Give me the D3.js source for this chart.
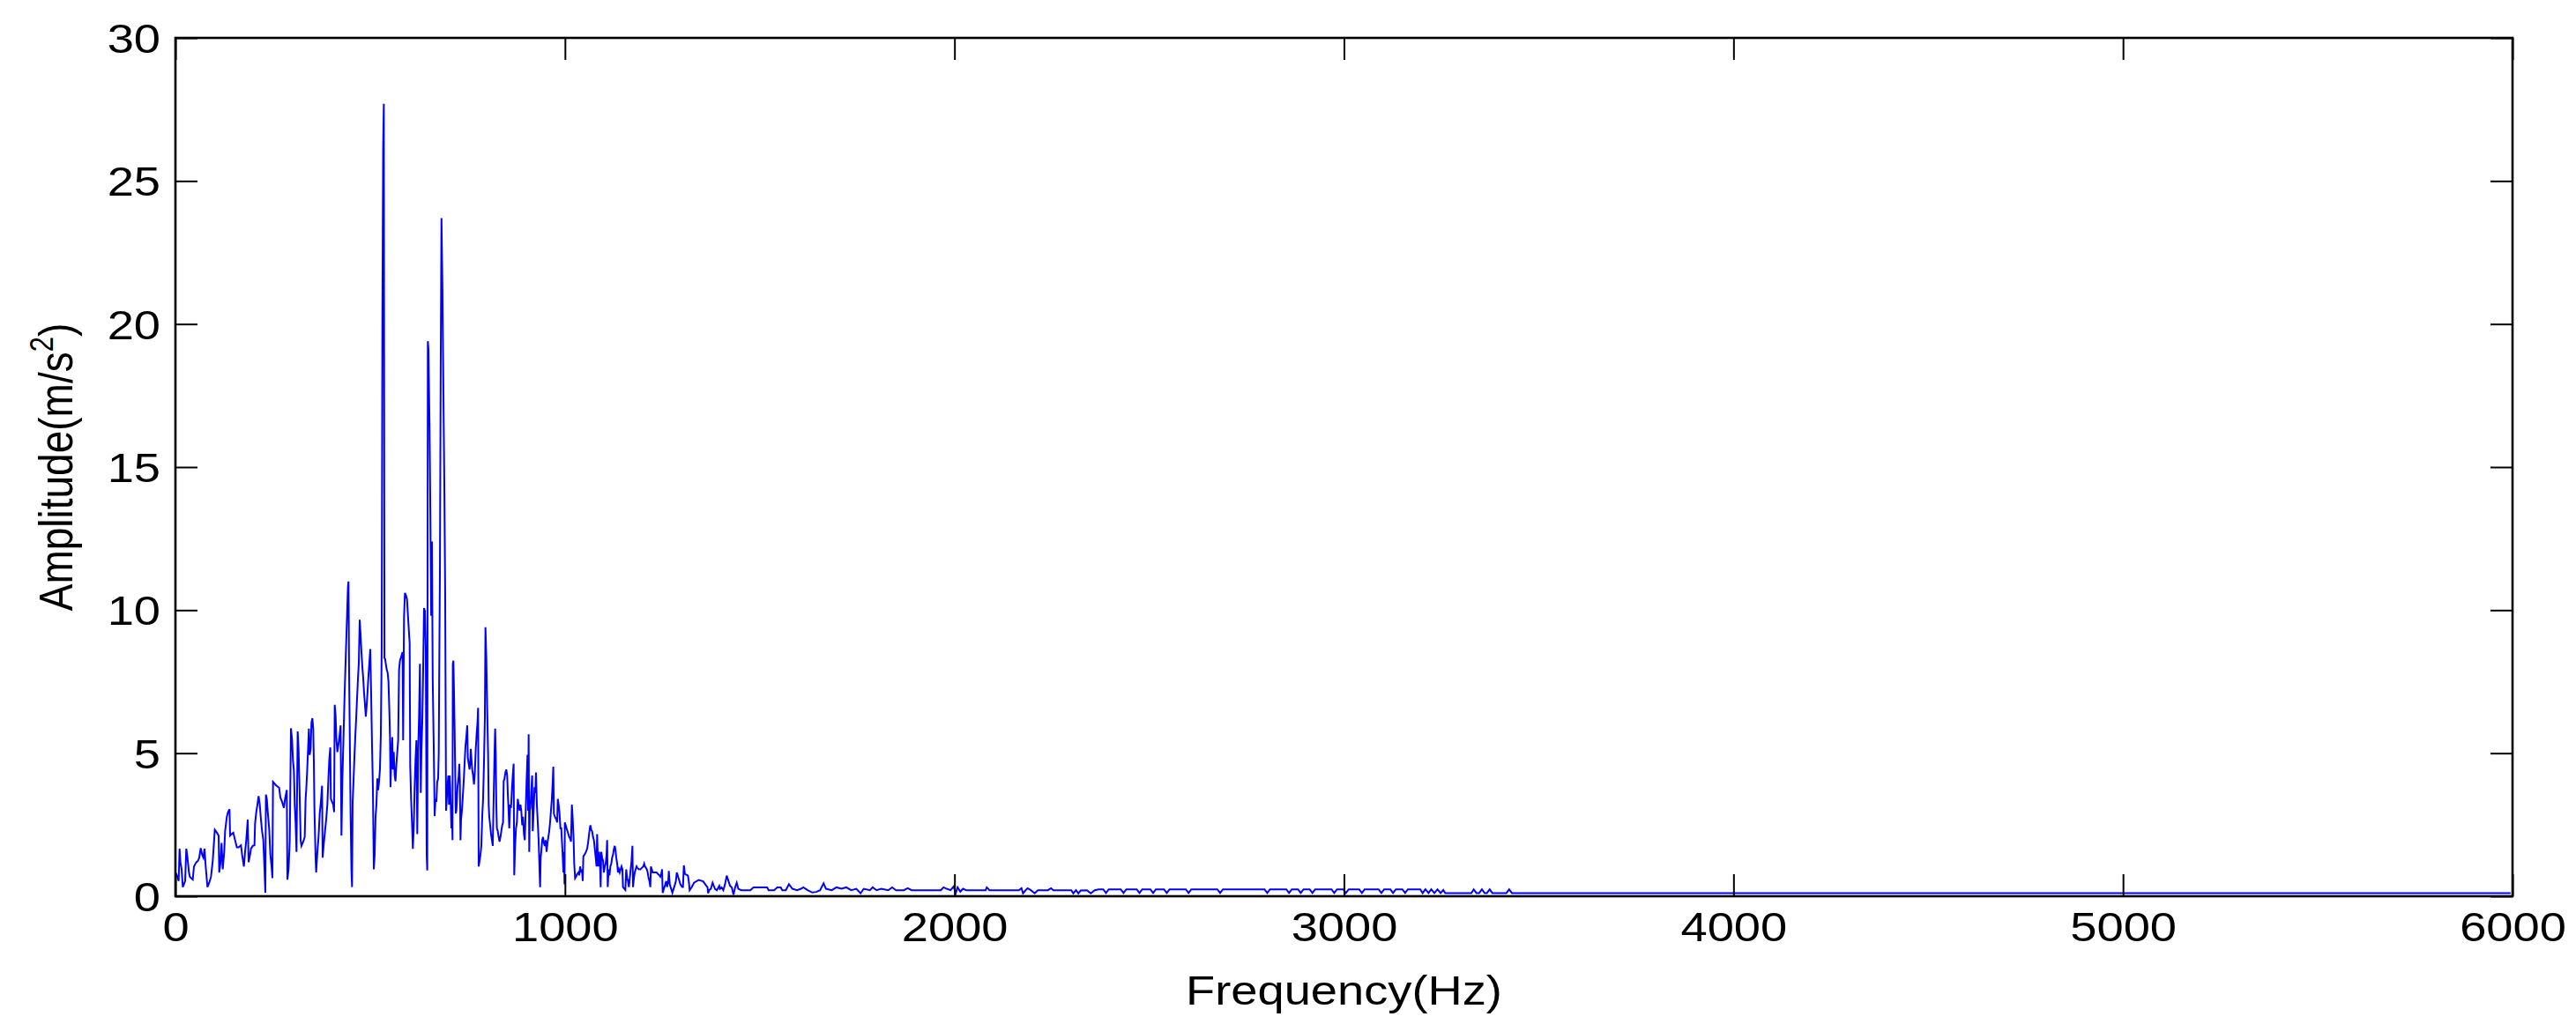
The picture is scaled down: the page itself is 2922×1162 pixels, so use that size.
<!DOCTYPE html>
<html><head><meta charset="utf-8">
<script src="https://cdn.jsdelivr.net/npm/d3@7"></script>
<style>html,body{margin:0;padding:0;background:#fff;} svg{display:block;}</style>
</head><body>
<svg id="chart" width="2922" height="1162"></svg>
<script>
// ---- tick labels / titles ----
const xTickValues = [0, 1000, 2000, 3000, 4000, 5000, 6000];
const yTickValues = [0, 5, 10, 15, 20, 25, 30];
const xTitle = "Frequency(Hz)";
const yTitleMain = "Amplitude(m/s";
const yTitleSup = "2";
const yTitleEnd = ")";

// ---- spectrum: [frequency Hz, amplitude m/s^2] ----
const lowBand = [
[0,0.83],[3.8,0.73],[8.3,0.53],[10.6,1.66],[12.8,1.19],[15.8,0.94],[18.9,0.32],[21.9,0.42],[24.9,0.53],[27.9,1.66],
[30.9,1.35],[34.7,0.83],[37,0.68],[44.5,0.58],[47.5,1.04],[53.6,1.19],[58.1,1.24],[61.1,1.35],[64.9,1.68],[68.6,1.45],
[71.7,1.35],[74.7,1.66],[77.7,1.04],[82.2,0.32],[86.7,0.47],[91.3,0.68],[95.8,1.24],[98.8,1.86],[101.1,2.32],[106.4,2.22],
[110.9,2.12],[112.4,0.83],[115.4,1.14],[118.4,1.86],[121.4,0.94],[125.2,1.55],[127.5,2.27],[132,2.78],[135,2.94],[138.8,3.04],
[140.3,2.12],[144.1,2.17],[148.6,2.22],[153.1,1.96],[157.7,1.71],[162.2,1.71],[168.2,1.78],[171.2,1.45],[175.8,1.04],[178.8,1.55],
[181.8,1.96],[185.6,2.68],[187.8,1.19],[190.9,1.4],[193.9,1.66],[198.4,1.76],[202.9,1.78],[204.4,2.53],[207.5,2.94],[210.5,3.2],
[213.5,3.5],[216.5,3.2],[219.5,2.68],[222.5,2.27],[225.6,1.96],[228.6,0.94],[230.8,0.12],[232.3,3.55],[234.6,3.4],[237.6,2.84],
[240.6,2.37],[243.7,1.45],[246.7,1.04],[249,0.63],[250.5,4.0],[257.2,3.89],[266.3,3.79],[269.3,3.45],[273.8,3.3],[278.4,3.09],
[281.4,3.4],[285.9,3.71],[287.4,0.58],[290.4,0.94],[293.5,1.96],[296.5,5.87],[299.5,5.45],[301.7,4.74],[304,4.43],[306.3,3.2],
[308.5,2.58],[310.8,1.55],[313.8,5.76],[316.1,5.15],[318.3,3.91],[321.5,1.96],[323.5,1.76],[328.2,1.91],[331.9,2.07],[334.2,3.4],
[335.7,3.71],[338,4.32],[340.2,5.04],[342.5,5.86],[344.7,4.94],[347,5.15],[349.3,6.07],[351.5,6.22],[353.8,5.86],[355.3,4.74],
[356.8,3.09],[359.8,1.35],[361.3,0.83],[364.4,1.55],[367.4,2.07],[370.4,2.89],[373.4,3.3],[376.4,3.86],[377.9,1.35],[381,1.86],
[384,2.27],[387,2.68],[390,3.2],[393,4.22],[395.3,4.84],[397.6,5.2],[399.1,3.4],[402.1,3.3],[405.1,3.2],[407.4,2.94],
[408.9,6.69],[411.1,6.33],[413.4,5.45],[415.7,5.04],[417.9,5.25],[421,5.56],[424,5.97],[426.2,2.12],[428.5,4.02],[431.5,5.56],
[433.8,6.79],[436,7.82],[438.3,8.84],[440.6,9.82],[442.8,10.79],[444.3,11.0],[445.8,7.92],[447.4,5.86],[449.6,2.89],[451.9,0.88],
[453.4,0.32],[454.9,3.3],[457.2,4.02],[459.4,4.84],[461.7,5.56],[464,6.22],[466.2,6.89],[468.6,7.61],[470.7,8.12],[473,9.66],
[475.3,9.15],[477.5,8.53],[479.8,8.02],[482.1,7.61],[484.3,7.1],[486.6,6.69],[488.8,6.28],[491.1,6.69],[493.4,7.2],[495.6,7.71],
[497.9,8.17],[500.2,8.64],[502.4,7.1],[504.7,5.25],[506.9,3.81],[509.2,0.94],[511.5,1.45],[513.7,2.78],[516,3.2],[518.3,4.12],
[520.5,3.71],[522.8,4.02],[525,4.43],[527.3,5.66],[529.5,8.6],[531.3,20.3],[533.3,26.2],[535,27.7],[536.6,8.33],[538.5,8.28],
[540.1,8.12],[542.4,7.92],[544.7,7.82],[546.9,7.51],[549.2,6.48],[550.7,5.66],[552.2,3.81],[554.5,5.04],[556.7,5.56],[558.2,4.43],
[560.5,5.04],[562.8,4.22],[565,4.02],[567.3,4.63],[569.6,5.04],[571.8,5.45],[574.1,7.92],[576.4,8.23],[578.6,8.33],[580.9,8.43],
[583.1,8.53],[584.6,5.45],[586.9,9.77],[589.2,10.6],[592.2,10.5],[594.5,10.38],[596.7,9.87],[599,9.35],[601.3,8.84],[602.8,4.53],
[605,3.4],[607.3,2.58],[609.5,1.66],[611.8,2.37],[614.1,3.81],[616.3,4.74],[618.6,5.45],[620.9,2.17],[623.1,5.04],[625.4,6.28],
[627.7,8.12],[629.9,3.61],[631.4,5.04],[633.7,6.07],[636,7.92],[638.2,10.07],[640.5,9.97],[642.7,8.64],[645,1.45],[646.5,0.9],
[648,19.4],[649.6,19.1],[651,17.7],[652.5,16.3],[654.5,13.3],[656.5,9.8],[658.5,12.4],[660.5,7.6],[663,5.35],[665.5,2.8],
[667.6,3.4],[670,3.3],[672,4.0],[674.4,4.1],[676,5.0],[677.4,8.2],[679,11.3],[681,18.5],[683,23.7],[685.5,21.2],
[688,17.6],[690.5,14.1],[692.5,10.6],[694.8,2.99],[696.3,3.3],[697.8,3.71],[699.3,4.02],[700.8,4.22],[702.3,3.2],[703.8,4.22],
[705.4,3.81],[706.9,3.2],[708.4,2.37],[709.9,2.99],[711.4,1.96],[712.1,8.12],[713.6,8.23],[715.2,7.1],[716.7,5.86],[718.2,4.43],
[719.7,2.89],[721.2,2.99],[722.7,3.4],[724.2,3.81],[725.7,4.02],[727.2,4.22],[728.7,4.63],[730.2,4.02],[731.8,1.96],[733.3,2.68],
[735.5,2.99],[737.8,3.5],[740.1,4.02],[742.3,4.63],[744.6,5.25],[746.8,5.56],[749.1,5.97],[750.6,4.84],[752.9,4.63],[755.1,4.43],
[756.6,4.63],[758.2,5.15],[759.7,4.84],[761.9,4.43],[764.2,4.22],[766.5,3.91],[768.7,4.33],[771,5.15],[773.2,5.66],[775.5,6.07],
[777,6.58],[778.5,1.04],[780.8,1.24],[783.1,1.45],[785.3,1.76],[787.6,2.78],[789.8,3.4],[792.1,4.63],[794.4,6.28],[795.9,9.4],
[798.1,8.33],[800.4,6.58],[802.7,4.94],[804.2,3.2],[805.7,2.78],[808,2.48],[810.2,2.17],[812.5,1.96],[814.7,1.76],[816.3,2.99],
[817.8,4.02],[819.3,5.04],[820.8,5.86],[822.3,4.94],[823.8,3.2],[825.3,2.37],[827.6,2.27],[829.8,2.07],[832.1,1.91],[834.4,2.07],
[836.6,2.27],[838.9,2.48],[841.1,2.58],[842.7,4.02],[844.9,4.12],[847.2,4.33],[849.4,4.43],[851.7,4.22],[853.2,3.61],[854.7,3.2],
[857,2.37],[859.3,3.2],[861.5,3.09],[863.8,3.71],[866,4.22],[868.3,4.63],[869.8,0.73],[872.1,1.76],[874.3,2.37],[876.6,2.58],
[878.9,3.4],[881.1,3.2],[883.4,2.99],[885.7,3.2],[887.9,2.99],[890.2,2.48],[892.4,2.78],[894.7,2.17],[896.9,1.96],[899.2,2.99],
[901.5,4.02],[903.8,4.94],[905.3,2.99],[906.8,5.66],[908.3,1.55],[909.8,2.99],[911.3,3.09],[913.6,3.71],[915.8,4.22],[917.3,2.27],
[919.6,2.99],[921.9,3.81],[924.1,3.61],[925.6,4.33],[927.9,3.2],[930.2,2.58],[932.4,1.96],[934.7,0.94],[936.2,0.32],[937.7,1.35],
[939.2,1.55],[941.5,1.96],[943.7,2.07],[946,1.86],[948.3,1.76],[950.5,1.96],[952.8,1.55],[955.1,1.86],[957.3,2.07],[959.6,2.27],
[961.8,2.58],[964.1,2.99],[966.4,3.4],[968.6,4.02],[970.1,4.53],[971.6,2.89],[974,2.78],[977.8,2.68],[980,2.58],[981.6,3.4],
[983.8,3.2],[986.1,2.89],[988.4,2.37],[990.6,2.37],[992.1,1.96],[994.4,1.35],[995.9,0.83],[997.4,1.55],[998.9,0.42],[999.7,2.58],
[1001.9,2.48],[1004.2,2.37],[1006.5,2.27],[1008.7,2.17],[1011,2.07],[1013.2,2.02],[1015.5,1.91],[1017.8,3.2],[1020,2.68],[1022.3,1.96],
[1023.8,1.14],[1026.1,0.63],[1028.3,0.68],[1031.4,0.78],[1034.4,0.83],[1036.6,0.73],[1038.9,1.04],[1041.2,0.83],[1043.4,0.94],[1045.7,0.53],
[1047.2,1.4],[1050.2,1.45],[1054,1.55],[1057,1.66],[1059.3,1.86],[1061.5,2.12],[1063.8,2.37],[1065.3,2.48],[1067.6,2.32],[1069.8,2.27],
[1072.1,2.07],[1074.4,1.96],[1076.6,1.66],[1078.9,1.35],[1081.1,1.04],[1082.6,2.17],[1084.2,1.45],[1085.7,1.04],[1087.9,1.55],[1090.2,1.04],
[1091.7,0.32],[1093.2,1.55],[1095.5,1.35],[1097.7,1.24],[1100,0.83],[1102.3,1.04],[1104.5,1.14],[1106.8,1.45],[1108.3,1.96],[1109.8,0.32],
[1112.1,0.94],[1114.3,0.73],[1116.6,1.04],[1118.9,1.14],[1121.1,1.35],[1123.4,1.45],[1125.7,1.66],[1127.9,1.76],[1129.4,1.66],[1131.7,1.35],
[1134,1.14],[1136.2,0.83],[1138.5,0.94],[1140.7,0.83],[1143,0.94],[1145.3,1.04],[1147.5,0.94],[1149,0.32],[1152.1,0.27],[1155.1,0.22],
[1157.3,0.94],[1159.6,0.63],[1161.9,0.53],[1164.1,0.32],[1166.4,0.63],[1168.7,0.94],[1170.9,1.24],[1173.2,1.76],[1174.7,0.32],[1177,0.63],
[1179.2,0.83],[1181.5,0.94],[1183.8,1.04],[1186,0.99],[1189.8,0.94],[1193.5,0.94],[1197.3,0.99],[1201.1,1.04],[1203.4,1.14],[1205.6,1.04],
[1207.9,0.99],[1210.1,0.94],[1212.4,0.83],[1214.7,0.63],[1216.9,0.53],[1219.2,0.32],[1220.7,1.04],[1223,0.94],[1225.2,0.83],[1227.5,0.83],
[1235,0.83],[1238.8,0.78],[1242.6,0.73],[1244.8,0.68],[1247.1,0.78],[1249.4,0.94],[1250.9,0.12],[1253.1,0.22],[1255.4,0.32],[1257.7,0.42],
[1259.9,0.53],[1262.2,0.32],[1265.2,0.53],[1266.7,0.88],[1269,0.42],[1271.2,0.32],[1273.5,0.22],[1275.8,0.12],[1278,0.22],[1280.3,0.32],
[1282.6,0.42],[1284.8,0.53],[1287.1,0.83],[1289.4,0.73],[1291.6,0.63],[1293.9,0.53],[1296.2,0.42],[1298.4,0.37],[1300.7,0.32],[1303,0.32],
[1305.2,1.08]
];
const midBand = [
[1308,0.78],[1315.7,0.72],[1318,0.52],[1320.1,0.21],[1325,0.31],[1331.3,0.47],[1343.4,0.57],[1354.7,0.52],[1360,0.42],[1365.9,0.31],
[1367.6,0.1],[1370,0.21],[1374.6,0.26],[1379,0.47],[1385,0.26],[1390,0.21],[1396.2,0.36],[1398,0.26],[1402,0.31],[1406.6,0.21],
[1411,0.42],[1415.3,0.72],[1420,0.52],[1424,0.36],[1428.3,0.31],[1432.6,0.05],[1436.9,0.31],[1441,0.47],[1445,0.26],[1452.5,0.21],
[1475.9,0.21],[1484,0.31],[1519,0.31],[1523,0.21],[1537,0.21],[1545,0.31],[1554,0.31],[1558,0.21],[1567,0.21],[1575,0.42],
[1584,0.26],[1596,0.21],[1606,0.26],[1612,0.31],[1623,0.21],[1635,0.13],[1645,0.15],[1655,0.21],[1664,0.45],[1670,0.26],
[1685,0.21],[1697,0.31],[1710,0.26],[1722,0.31],[1735,0.21],[1748,0.26],[1759,0.1],[1767,0.26],[1783,0.21],[1790,0.31],
[1800,0.21],[1812,0.26],[1830,0.21],[1840,0.31],[1850,0.21],[1870,0.21],[1880,0.28],[1890,0.21],[1909,0.21],[1965,0.21],
[1972,0.31],[1980,0.26],[1990,0.21],[1998,0.34],[2003,0.1],[2008,0.31],[2015,0.16],[2022,0.26],[2030,0.21],[2080,0.21],
[2083,0.31],[2090,0.21],[2165,0.21],[2172,0.28],[2176,0.1],[2182,0.2],[2188,0.28],[2196,0.21],[2206,0.1],[2214,0.21],
[2240,0.21],[2248,0.28],[2254,0.21],[2300,0.21],[2305,0.1],[2312,0.21],[2318,0.1],[2324,0.2],[2340,0.21],[2350,0.1],
[2360,0.21]
];
const highBand = [
[2370,0.24],[2382,0.24],[2389,0.11],[2396,0.24],[2427,0.24],[2434,0.11],[2441,0.24],[2468,0.24],[2475,0.11],[2482,0.24],
[2503,0.24],[2510,0.11],[2517,0.24],[2538,0.24],[2545,0.11],[2552,0.24],[2594,0.24],[2601,0.11],[2608,0.24],[2675,0.24],
[2682,0.11],[2689,0.24],[2796,0.24],[2803,0.11],[2810,0.24],[2852,0.24],[2859,0.11],[2866,0.24],[2882,0.24],[2889,0.11],
[2896,0.24],[2912,0.24],[2919,0.11],[2926,0.24],[2968,0.24],[2975,0.11],[2982,0.24],[2998,0.24],[3005,0.11],[3012,0.24],
[3039,0.24],[3046,0.11],[3053,0.24],[3089,0.24],[3096,0.11],[3103,0.24],[3119,0.24],[3126,0.11],[3133,0.24],[3150,0.24],
[3157,0.11],[3164,0.24],[3196,0.24],[3202,0.11],[3209,0.24],[3217,0.11],[3224,0.24],[3232,0.11],[3240,0.24],[3248,0.11],
[3255,0.22],[3260,0.11],[3327,0.11],[3333,0.24],[3340,0.11],[3347,0.11],[3354,0.24],[3361,0.11],[3367,0.11],[3374,0.24],
[3381,0.11],[3417,0.11],[3424,0.24],[3431,0.11],[5995,0.11]
];
const spectrum = lowBand.concat(midBand, highBand);

// ---- layout ----
const W = 2922, H = 1162;
const plot = {left: 199, right: 2850, top: 43, bottom: 1017};
const stretch = 1.18;           // the picture is horizontally stretched
const fontFamily = "'Liberation Sans', Arial, Helvetica, sans-serif";
const fontSize = 46;

const svg = d3.select("#chart");
svg.append("rect").attr("width", W).attr("height", H).attr("fill", "#fff");

const x = d3.scaleLinear().domain([0, 6000]).range([plot.left, plot.right]);
const y = d3.scaleLinear().domain([0, 30]).range([plot.bottom, plot.top]);

// data line
const line = d3.line().x(d => x(d[0])).y(d => y(d[1]));
svg.append("path")
  .datum(spectrum)
  .attr("d", line)
  .attr("fill", "none")
  .attr("stroke", "#0000ff")
  .attr("stroke-width", 2)
  .attr("stroke-linejoin", "miter");

// axes (ticks inward, on all four sides)
function styleAxis(g) {
  g.select(".domain").remove();
  g.selectAll(".tick line").attr("stroke", "#000").attr("stroke-width", 2);
  g.selectAll("text").attr("fill", "#000").attr("font-family", fontFamily).attr("font-size", fontSize);
}
const gx = svg.append("g").attr("transform", `translate(0,${plot.bottom})`)
  .call(d3.axisBottom(x).tickValues(xTickValues).tickFormat(d3.format("d")).tickSizeInner(-25).tickSizeOuter(0))
  .call(styleAxis);
gx.selectAll("text").attr("y", 0).attr("dy", 0).attr("transform", `translate(0,51) scale(${stretch},1)`);

const gxt = svg.append("g").attr("transform", `translate(0,${plot.top})`)
  .call(d3.axisTop(x).tickValues(xTickValues).tickFormat("").tickSizeInner(-25).tickSizeOuter(0))
  .call(styleAxis);

const gy = svg.append("g").attr("transform", `translate(${plot.left},0)`)
  .call(d3.axisLeft(y).tickValues(yTickValues).tickFormat(d3.format("d")).tickSizeInner(-25).tickSizeOuter(0))
  .call(styleAxis);
gy.selectAll("text").attr("x", 0).attr("dy", 0).attr("text-anchor", "end")
  .attr("transform", `translate(-17,16.5) scale(${stretch},1)`);

const gyr = svg.append("g").attr("transform", `translate(${plot.right},0)`)
  .call(d3.axisRight(y).tickValues(yTickValues).tickFormat("").tickSizeInner(-25).tickSizeOuter(0))
  .call(styleAxis);

// box
svg.append("rect")
  .attr("x", plot.left).attr("y", plot.top)
  .attr("width", plot.right - plot.left).attr("height", plot.bottom - plot.top)
  .attr("fill", "none").attr("stroke", "#000").attr("stroke-width", 2.6);

// axis titles
svg.append("text")
  .attr("transform", `translate(${(plot.left + plot.right) / 2},1140) scale(${stretch},1)`)
  .attr("text-anchor", "middle")
  .attr("font-family", fontFamily).attr("font-size", fontSize).attr("fill", "#000")
  .text(xTitle);

const yt = svg.append("text")
  .attr("transform", `translate(82,${(plot.top + plot.bottom) / 2}) scale(${stretch},1) rotate(-90)`)
  .attr("text-anchor", "middle")
  .attr("font-family", fontFamily).attr("font-size", fontSize).attr("fill", "#000");
yt.append("tspan").text(yTitleMain);
yt.append("tspan").attr("font-size", 31).attr("dy", -19).text(yTitleSup);
yt.append("tspan").attr("dy", 19).text(yTitleEnd);
</script>
</body></html>
